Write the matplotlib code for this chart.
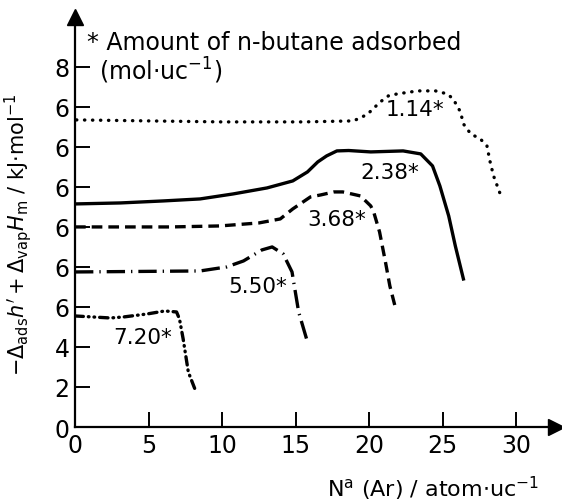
"""Offset curves of -Δads h' + Δvap Hm against argon uptake for several n-butane loadings."""
import matplotlib
matplotlib.use('Agg')
import matplotlib.pyplot as plt

# Curves (y already includes the vertical offset of each curve).
x_114 = [0.1, 5.0, 10.0, 15.5, 18.9, 19.4, 19.9, 20.75, 21.3, 21.9, 23.3, 24.5, 25.3, 25.7, 26.2,
         26.4, 26.9, 27.55, 28.0, 28.2, 28.45, 28.9]
y_114 = [15.35, 15.3, 15.25, 15.25, 15.3, 15.45, 15.65, 16.25, 16.55, 16.65, 16.8, 16.8, 16.65, 16.4, 15.75,
         15.15, 14.65, 14.4, 14.05, 13.3, 12.55, 11.65]

x_238 = [0.0, 3.1, 6.0, 8.5, 10.75, 13.05, 14.8, 15.8, 16.5, 17.1, 17.8, 18.6, 20.1, 22.3, 23.5, 24.3,
         24.8, 25.4, 25.85, 26.4]
y_238 = [11.15, 11.2, 11.3, 11.4, 11.65, 11.95, 12.3, 12.75, 13.25, 13.55, 13.8, 13.82, 13.75, 13.8, 13.65, 13.05,
         12.05, 10.55, 9.05, 7.4]

x_368 = [0.0, 6.5, 9.85, 12.5, 13.95, 14.8, 16.0, 16.7, 17.6, 18.2, 19.4, 20.1, 20.3, 20.7, 21.1, 21.4, 21.8]
y_368 = [10.0, 10.0, 10.05, 10.2, 10.4, 10.9, 11.5, 11.6, 11.75, 11.75, 11.55, 11.05, 10.75, 9.75, 8.25, 7.05, 5.9]

x_550 = [0.0, 8.5, 10.3, 11.45, 12.7, 13.4, 14.15, 14.75, 15.2, 15.8]
y_550 = [7.75, 7.8, 8.0, 8.3, 8.85, 9.0, 8.65, 7.75, 5.75, 4.25]

x_720 = [0.0, 2.4, 3.3, 4.9, 6.1, 6.9, 7.1, 7.35, 7.7, 8.2]
y_720 = [5.55, 5.45, 5.5, 5.65, 5.8, 5.75, 5.4, 4.4, 2.75, 1.8]

curve_labels = ['1.14*', '2.38*', '3.68*', '5.50*', '7.20*']
label_x = [23.1, 21.4, 17.8, 12.4, 4.6]
label_y = [15.9, 12.75, 10.4, 7.05, 4.5]

x_ticks = [0, 5, 10, 15, 20, 25, 30]
y_ticks = [0, 2, 4, 6, 8, 10, 12, 14, 16, 18]
y_tick_labels = ['0', '2', '4', '6', '6', '6', '6', '6', '6', '8']


def main():
    fig = plt.figure(figsize=(5.62, 5.02), dpi=100)
    ax = fig.add_axes([0.1335, 0.1474, 0.856, 0.817])

    lw = 2.4
    ax.plot(x_114, y_114, color='black', lw=lw, linestyle=(0, (0.1, 2.3)), dash_capstyle='round')
    ax.plot(x_238, y_238, color='black', lw=lw, linestyle='-')
    ax.plot(x_368, y_368, color='black', lw=lw, linestyle=(0, (3.2, 1.8)))
    ax.plot(x_550, y_550, color='black', lw=lw, linestyle=(0, (5.5, 1.8, 0.4, 1.8)))
    ax.plot(x_720, y_720, color='black', lw=lw, linestyle=(0, (2.5, 1.5, 0.2, 1.5, 0.2, 1.5)),
            dash_capstyle='round')

    for text, tx, ty in zip(curve_labels, label_x, label_y):
        ax.text(tx, ty, text, ha='center', va='center', fontsize=15.5)

    ax.set_xlim(0, 32.7)
    ax.set_ylim(0, 20.5)
    ax.set_xticks(x_ticks)
    ax.set_yticks(y_ticks)
    ax.set_yticklabels(y_tick_labels)
    ax.tick_params(direction='in', length=11, width=1.4, labelsize=17, pad=4)

    for side in ['top', 'right']:
        ax.spines[side].set_visible(False)
    for side in ['left', 'bottom']:
        ax.spines[side].set_linewidth(1.6)

    # Arrow heads at the ends of both axes.
    ax.plot(1, 0, '>k', markersize=11, transform=ax.transAxes, clip_on=False)
    ax.plot(0, 1, '^k', markersize=11, transform=ax.transAxes, clip_on=False)

    ax.text(0.8, 19.25, '* Amount of n-butane adsorbed', fontsize=17, va='center')
    ax.text(1.6, 17.85, r'(mol$\cdot$uc$^{-1}$)', fontsize=17, va='center')

    ax.set_xlabel(r'N$^{\mathrm{a}}$ (Ar) / atom$\cdot$uc$^{-1}$', fontsize=16)
    ax.xaxis.set_label_coords(0.745, -0.115)
    ax.set_ylabel(r"$-\Delta_{\mathrm{ads}}h' + \Delta_{\mathrm{vap}}H_{\mathrm{m}}$ / kJ$\cdot$mol$^{-1}$",
                  fontsize=15)
    ax.yaxis.set_label_coords(-0.085, 0.47)

    fig.savefig('out.png', dpi=100)


if __name__ == '__main__':
    main()
